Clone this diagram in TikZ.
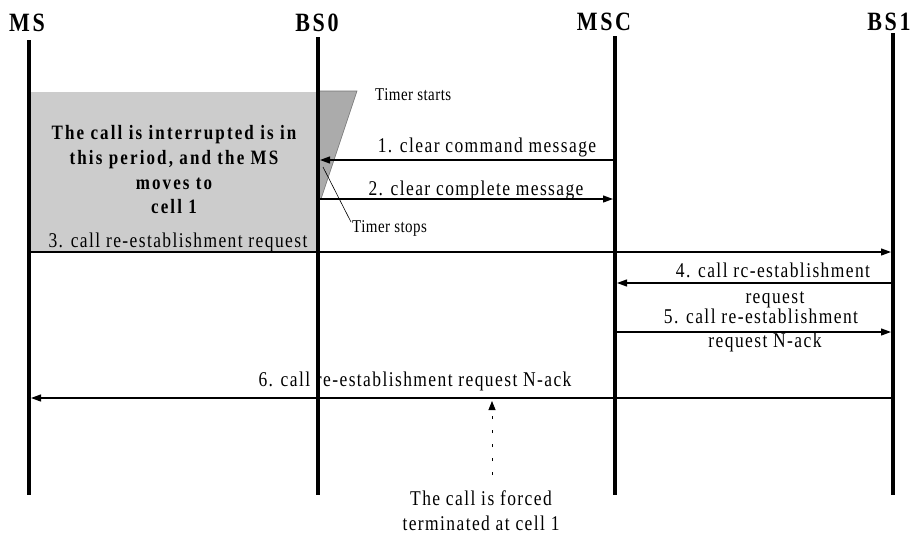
\documentclass[tikz,border=0pt]{standalone}
\usepackage{fontspec}
\usepackage{graphicx}
\setmainfont{Liberation Serif}
\newfontfamily\msgfont[LetterSpace=8]{Liberation Serif}
\newfontfamily\boxfont[LetterSpace=12.5]{Liberation Serif}
\newfontfamily\headfont[LetterSpace=12]{Liberation Serif}
\newfontfamily\notefont[LetterSpace=3]{Liberation Serif}
\newcommand{\tallt}[1]{\scalebox{1}[1.2]{#1}}
\usetikzlibrary{arrows.meta}
\begin{document}
\begin{tikzpicture}[x=1pt,y=-1pt,
  lifeline/.style={line width=3.6pt},
  msg/.style={line width=1.2pt,-{Triangle[length=10pt,width=7pt]}},
  msgtext/.style={font=\msgfont\fontsize{17.5}{20}\selectfont,inner sep=0pt,anchor=base},
  boxtext/.style={font=\boxfont\bfseries\fontsize{17}{20}\selectfont,inner sep=0pt,anchor=base},
  head/.style={font=\headfont\bfseries\fontsize{22}{24}\selectfont,inner sep=0pt,anchor=base},
  notetext/.style={font=\notefont\fontsize{15}{17}\selectfont,inner sep=0pt,anchor=base west},
  shade1/.style={fill=black!20},
  shade2/.style={fill=black!33,draw=black!55,line width=0.6pt},
  fcarrow/.style={line width=0.8pt,dash pattern=on 3pt off 11pt,-{Triangle[length=9pt,width=7pt]}},
  thinline/.style={line width=0.6pt}]
\useasboundingbox (0,0) rectangle (914,536);

% shaded regions
\path[shade1] (29,92) rectangle (318,252);
\path[shade2] (318,91) -- (357,91) -- (321,199) -- (318,199) -- cycle;

% headers
\node[head] (hMS) at (27,31) {\tallt{MS}};
\node[head] (hBS0) at (317,31) {\tallt{BS0}};
\node[head] (hMSC) at (604,30) {\tallt{MSC}};
\node[head] (hBS1) at (889,30) {\tallt{BS1}};

% lifeline coordinates
\coordinate (msT) at (29,40);   \coordinate (msB) at (29,495);
\coordinate (bsoT) at (318,37); \coordinate (bsoB) at (318,495);
\coordinate (mscT) at (615,36); \coordinate (mscB) at (615,495);
\coordinate (bsiT) at (893,33); \coordinate (bsiB) at (893,495);

% message end points
\coordinate (m1a) at (613,160); \coordinate (m1b) at (320,160);
\coordinate (m2a) at (320,199); \coordinate (m2b) at (613,199);
\coordinate (m3a) at (31,252);  \coordinate (m3b) at (891,252);
\coordinate (m4a) at (891,283); \coordinate (m4b) at (617,283);
\coordinate (m5a) at (617,332); \coordinate (m5b) at (891,332);
\coordinate (m6a) at (891,398); \coordinate (m6b) at (31,398);

% box text
\node[boxtext] (b1) at (174,139) {\tallt{The call is interrupted is in}};
\node[boxtext] (b2) at (174,164) {\tallt{this period, and the MS}};
\node[boxtext] (b3) at (174,189) {\tallt{moves to}};
\node[boxtext] (b4) at (174,213) {\tallt{cell 1}};

% timer notes
\node[notetext] (tStart) at (375,100) {\tallt{Timer starts}};
\node[notetext] (tStop) at (352,232) {\tallt{Timer stops}};
\coordinate (tsA) at (323,167);
\coordinate (tsB) at (351,222);
\draw[thinline] (tsA) -- (tsB);

% message labels
\node[msgtext] (l1) at (487,152) {\tallt{1. clear command message}};
\node[msgtext] (l2) at (476,195) {\tallt{2. clear complete message}};
\node[msgtext] (l3) at (178,247) {\tallt{3. call re-establishment request}};
\node[msgtext] (l4) at (773,277) {\tallt{4. call rc-establishment}};
\node[msgtext] (l4b) at (775,303) {\tallt{request}};
\node[msgtext] (l5) at (761,323) {\tallt{5. call re-establishment}};
\node[msgtext] (l5b) at (765,347) {\tallt{request N-ack}};
\node[msgtext] (l6) at (415,386) {\tallt{6. call re-establishment request N-ack}};

% messages
\draw[msg] (m1a) -- (m1b);
\draw[msg] (m2a) -- (m2b);
\draw[msg] (m3a) -- (m3b);
\draw[msg] (m4a) -- (m4b);
\draw[msg] (m5a) -- (m5b);
\draw[msg] (m6a) -- (m6b);

% lifelines
\draw[lifeline] (msT) -- (msB);
\draw[lifeline] (bsoT) -- (bsoB);
\draw[lifeline] (mscT) -- (mscB);
\draw[lifeline] (bsiT) -- (bsiB);

% forced termination
\coordinate (fcA) at (492,475);
\coordinate (fcB) at (492,401);
\draw[fcarrow] (fcA) -- (fcB);
\node[msgtext] (f1) at (481,505) {\tallt{The call is forced}};
\node[msgtext] (f2) at (481,530) {\tallt{terminated at cell 1}};
\end{tikzpicture}
\end{document}
